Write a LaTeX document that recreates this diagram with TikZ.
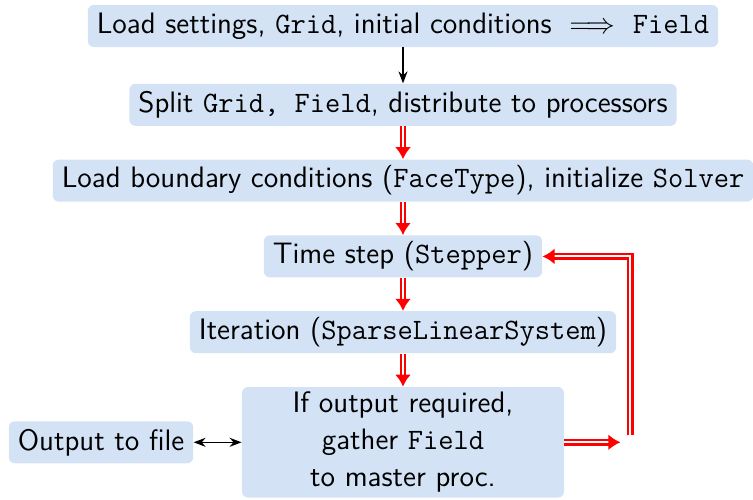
\documentclass[tikz,border=0pt]{standalone}
\usepackage{amsmath}
\usepackage{xcolor}
\definecolor{blockBack}   {HTML}{D3E3F5}
\definecolor{flowRed}     {HTML}{FF0000}
\usetikzlibrary{arrows.meta, positioning, calc}
\tikzset{
    stage/.style={rectangle, rounded corners=3pt, fill=blockBack,
                  minimum height=21pt, inner xsep=4.5pt, inner ysep=2.5pt,
                  font=\sffamily\fontsize{14.8pt}{18.5pt}\selectfont, align=center},
    plainedge/.style={-{Stealth[length=6pt, width=4.5pt]}, thick},
    ioedge/.style={{Stealth[length=6pt, width=4.5pt]}-{Stealth[length=6pt, width=4.5pt]}, thick},
    redflow/.style={draw=flowRed, line width=1.2pt, double=white, double distance=1pt,
                    -{Latex[length=6pt, width=8pt]}},
}
\begin{document}
\begin{tikzpicture}[node distance=16.5pt]
    \useasboundingbox (-201.5pt,13pt) rectangle (175pt,-236.5pt);
    \node[stage] (load) at (0,0) {Load settings, \texttt{Grid}, initial conditions $\implies$ \texttt{Field}};
    \node[stage, below=18pt of load] (split) {Split \texttt{Grid, Field}, distribute to processors};
    \node[stage, below=of split] (bc) {Load boundary conditions (\texttt{FaceType}), initialize \texttt{Solver}};
    \node[stage, below=of bc] (stepper) {Time step (\texttt{Stepper})};
    \node[stage, below=of stepper] (iter) {Iteration (\texttt{SparseLinearSystem})};
    \node[stage, below=of iter, minimum width=161pt] (gather) {If output required,\\ gather \texttt{Field}\\ to master proc.};
    \node[stage, left=24pt of gather] (outfile) {Output to file};
    % loop back
    \coordinate[right=28pt of gather.east] (gatherout);
    \coordinate (loopfoot) at ($(gather.east)+(33pt,3.5pt)$);
    \draw[plainedge] (load) -- (split);
    \draw[redflow] (split) -- (bc);
    \draw[redflow] (bc) -- (stepper);
    \draw[redflow] (stepper) -- (iter);
    \draw[redflow] (iter) -- (gather);
    \draw[ioedge] (outfile) -- (gather);
    \draw[redflow] (gather.east) -- (gatherout);
    \draw[redflow] (loopfoot) |- (stepper.east);
\end{tikzpicture}
\end{document}
